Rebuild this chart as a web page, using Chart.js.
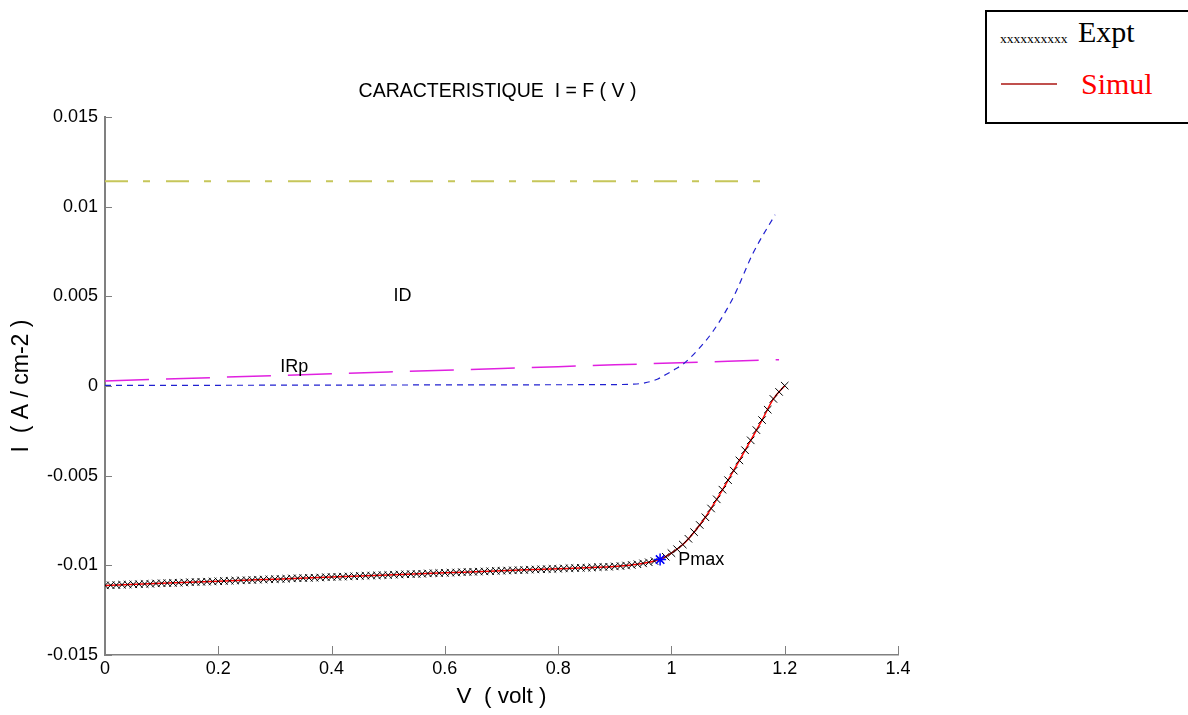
<!DOCTYPE html>
<html>
<head>
<meta charset="utf-8">
<script src="https://cdn.jsdelivr.net/npm/chart.js@4"></script>
<style>
html,body{margin:0;padding:0;background:#fff;}
#wrap{position:relative;width:1188px;height:715px;overflow:hidden;}
#legend{position:absolute;left:985px;top:10px;width:210px;height:110px;border:2px solid #000;background:#fff;font-family:"Liberation Serif","DejaVu Serif",serif;}
#legend .xs{position:absolute;left:13px;top:19px;font-size:13.5px;color:#000;}
#legend .expt{position:absolute;left:91px;top:3px;font-size:30px;color:#000;}
#legend .line{position:absolute;left:14px;top:71px;width:56px;height:2px;background:#c0504d;}
#legend .simul{position:absolute;left:94px;top:55px;font-size:30px;color:#ff0000;}
</style>
</head>
<body>
<div id="wrap">
<canvas id="c" width="1188" height="715"></canvas>
<div id="legend"><span class="xs">xxxxxxxxxx</span><span class="expt">Expt</span><div class="line"></div><span class="simul">Simul</span></div>
</div>
<script>
// ---- data ----
const xTickValues = [0, 0.2, 0.4, 0.6, 0.8, 1, 1.2, 1.4];
const xTickLabels = ['0', '0.2', '0.4', '0.6', '0.8', '1', '1.2', '1.4'];
const yTickValues = [-0.015, -0.01, -0.005, 0, 0.005, 0.01, 0.015];
const yTickLabels = ['-0.015', '-0.01', '-0.005', '0', '0.005', '0.01', '0.015'];

const exptV = [
 0.00,0.01,0.02,0.03,0.04,0.05,0.06,0.07,0.08,0.09,
 0.10,0.11,0.12,0.13,0.14,0.15,0.16,0.17,0.18,0.19,
 0.20,0.21,0.22,0.23,0.24,0.25,0.26,0.27,0.28,0.29,
 0.30,0.31,0.32,0.33,0.34,0.35,0.36,0.37,0.38,0.39,
 0.40,0.41,0.42,0.43,0.44,0.45,0.46,0.47,0.48,0.49,
 0.50,0.51,0.52,0.53,0.54,0.55,0.56,0.57,0.58,0.59,
 0.60,0.61,0.62,0.63,0.64,0.65,0.66,0.67,0.68,0.69,
 0.70,0.71,0.72,0.73,0.74,0.75,0.76,0.77,0.78,0.79,
 0.80,0.81,0.82,0.83,0.84,0.85,0.86,0.87,0.88,0.89,
 0.90,0.91,0.92,0.93,0.94,0.95,0.96,0.97,0.98,0.99,
 1.00,1.01,1.02,1.03,1.04,1.05,1.06,1.07,1.08,1.09,
 1.10,1.11,1.12,1.13,1.14,1.15,1.16,1.17,1.18,1.19,
 1.20];
const exptI = [
 -0.01112,-0.01111,-0.01110,-0.01108,-0.01107,-0.01106,-0.01105,-0.01104,-0.01103,-0.01101,
 -0.01100,-0.01099,-0.01098,-0.01097,-0.01096,-0.01094,-0.01093,-0.01092,-0.01091,-0.01090,
 -0.01089,-0.01087,-0.01086,-0.01085,-0.01084,-0.01083,-0.01082,-0.01080,-0.01079,-0.01078,
 -0.01077,-0.01076,-0.01075,-0.01073,-0.01072,-0.01071,-0.01070,-0.01069,-0.01068,-0.01066,
 -0.01065,-0.01064,-0.01063,-0.01062,-0.01061,-0.01059,-0.01058,-0.01057,-0.01056,-0.01055,
 -0.01054,-0.01052,-0.01051,-0.01050,-0.01049,-0.01048,-0.01047,-0.01045,-0.01044,-0.01043,
 -0.01042,-0.01041,-0.01040,-0.01038,-0.01037,-0.01036,-0.01035,-0.01034,-0.01033,-0.01031,
 -0.01030,-0.01029,-0.01028,-0.01027,-0.01026,-0.01024,-0.01023,-0.01022,-0.01021,-0.01020,
 -0.01019,-0.01017,-0.01016,-0.01015,-0.01014,-0.01013,-0.01012,-0.01010,-0.01009,-0.01008,
 -0.01006,-0.01004,-0.01001,-0.00998,-0.00994,-0.00989,-0.00983,-0.00976,-0.00968,-0.00952,
 -0.00932,-0.00910,-0.00884,-0.00852,-0.00815,-0.00775,-0.00732,-0.00683,-0.00632,-0.00578,
 -0.00525,-0.00472,-0.00415,-0.00358,-0.00303,-0.00246,-0.00190,-0.00132,-0.00072,-0.00033,
 0.00002];

const simulV = [0, 0.1, 0.2, 0.3, 0.4, 0.5, 0.6, 0.7, 0.8, 0.9, 0.92, 0.94, 0.96, 0.98, 1.00, 1.02, 1.04, 1.06, 1.08, 1.10, 1.12, 1.14, 1.16, 1.18, 1.20];
const simulI = [-0.01112, -0.01100, -0.01089, -0.01077, -0.01065, -0.01054, -0.01042, -0.01030, -0.01019, -0.01006, -0.01001, -0.00994, -0.00983, -0.00966, -0.00932, -0.00884, -0.00815, -0.00732, -0.00632, -0.00525, -0.00415, -0.00303, -0.00190, -0.00072, 0.00002];

const idV = [0, 0.2, 0.4, 0.6, 0.8, 0.9, 0.93, 0.953, 0.975, 0.992, 1.006, 1.021, 1.045, 1.074, 1.109, 1.144, 1.183];
const idI = [0.00003, 0.00004, 0.00005, 0.00006, 0.00007, 0.00008, 0.00010, 0.00017, 0.00038, 0.00067, 0.00093, 0.00123, 0.00196, 0.00308, 0.00493, 0.00740, 0.00955];

const irpV = [0, 0.1, 0.2, 0.3, 0.4, 0.5, 0.6, 0.7, 0.8, 0.9, 1.0, 1.1, 1.19];
const irpI = [0.00028, 0.00038, 0.00048, 0.00058, 0.00068, 0.00078, 0.00088, 0.00098, 0.00108, 0.00118, 0.00128, 0.00138, 0.00147];

const iphV = [0, 0.4, 0.8, 1.168];
const iphI = [0.01142, 0.01142, 0.01142, 0.01142];

const pmaxV = [0.98];
const pmaxI = [-0.00968];

const titleText = 'CARACTERISTIQUE  I = F ( V )';
const xTitle = 'V  ( volt )';
const yTitle = 'I  ( A / cm-2 )';
const annotations = [
  {text: 'ID', v: 0.525, i: 0.0050, align: 'center'},
  {text: 'IRp', v: 0.334, i: 0.00106, align: 'center'},
  {text: 'Pmax', v: 1.012, i: -0.00970, align: 'left'}
];

const pts = (xs, ys) => xs.map((x, k) => ({x: x, y: ys[k]}));
const FONT = '"Liberation Sans", Arial, sans-serif';

const decorPlugin = {
  id: 'decor',
  afterDraw(chart) {
    const ctx = chart.ctx;
    const xs = chart.scales.x, ys = chart.scales.y;
    const area = chart.chartArea;
    ctx.save();
    // inward ticks
    ctx.strokeStyle = '#808080';
    ctx.lineWidth = 1;
    ctx.beginPath();
    xTickValues.forEach(v => {
      const px = Math.round(xs.getPixelForValue(v)) + 0.5;
      ctx.moveTo(px, area.bottom);
      ctx.lineTo(px, area.bottom - 9);
    });
    yTickValues.forEach(v => {
      const py = Math.round(ys.getPixelForValue(v)) + 0.5;
      ctx.moveTo(area.left, py);
      ctx.lineTo(area.left + 7, py);
    });
    ctx.stroke();
    // title
    ctx.fillStyle = '#000';
    ctx.font = '19.5px ' + FONT;
    ctx.textAlign = 'center';
    ctx.textBaseline = 'middle';
    ctx.fillText(titleText, (area.left + area.right) / 2 - 4, area.top - 25);
    // annotations
    ctx.font = '18px ' + FONT;
    annotations.forEach(a => {
      ctx.textAlign = a.align;
      ctx.fillText(a.text, xs.getPixelForValue(a.v), ys.getPixelForValue(a.i));
    });
    ctx.restore();
  }
};

new Chart(document.getElementById('c'), {
  type: 'scatter',
  data: {
    datasets: [
      {label: 'Pmax', data: pts(pmaxV, pmaxI), showLine: false, pointStyle: 'star', pointRadius: 6, borderColor: '#0000ff', backgroundColor: '#0000ff', borderWidth: 1.5},
      {label: 'Expt', data: pts(exptV, exptI), showLine: false, pointStyle: 'crossRot', pointRadius: 5.3, borderColor: '#000', backgroundColor: '#000', borderWidth: 1},
      {label: 'Simul', data: pts(simulV, simulI), showLine: true, pointRadius: 0, borderColor: '#ff0000', borderWidth: 1.5, cubicInterpolationMode: 'monotone'},
      {label: 'ID', data: pts(idV, idI), showLine: true, pointRadius: 0, borderColor: '#2020d0', borderWidth: 1.2, borderDash: [6, 5], cubicInterpolationMode: 'monotone'},
      {label: 'IRp', data: pts(irpV, irpI), showLine: true, pointRadius: 0, borderColor: '#e020e0', borderWidth: 1.5, borderDash: [44, 17]},
      {label: 'Iph', data: pts(iphV, iphI), showLine: true, pointRadius: 0, borderColor: '#c6c65a', borderWidth: 2, borderDash: [23, 15, 7, 16]}
    ]
  },
  options: {
    responsive: false,
    animation: false,
    events: [],
    layout: {padding: {left: 0, top: 117, right: 290, bottom: 0}},
    plugins: {legend: {display: false}, tooltip: {enabled: false}, title: {display: false}},
    scales: {
      x: {
        type: 'linear', min: 0, max: 1.4,
        afterFit: s => { s.height = 60; },
        afterBuildTicks: s => { s.ticks = xTickValues.map(v => ({value: v})); },
        ticks: {color: '#000', font: {family: FONT, size: 18}, padding: 3, maxRotation: 0, autoSkip: false,
          callback: (val, idx) => xTickLabels[idx]},
        grid: {display: false, drawTicks: false},
        border: {display: true, color: '#808080', width: 1.5},
        title: {display: true, text: xTitle, color: '#000', font: {family: FONT, size: 22.5}, padding: {top: 4, bottom: 5}}
      },
      y: {
        type: 'linear', min: -0.015, max: 0.015,
        afterFit: s => { s.width = 105; },
        afterBuildTicks: s => { s.ticks = yTickValues.map(v => ({value: v})); },
        ticks: {color: '#000', font: {family: FONT, size: 18}, padding: 7, autoSkip: false,
          callback: (val, idx) => yTickLabels[idx]},
        grid: {display: false, drawTicks: false},
        border: {display: true, color: '#808080', width: 2},
        title: {display: true, text: yTitle, color: '#000', font: {family: FONT, size: 23}, padding: {top: 8, bottom: 4}}
      }
    }
  },
  plugins: [decorPlugin]
});
</script>
</body>
</html>
